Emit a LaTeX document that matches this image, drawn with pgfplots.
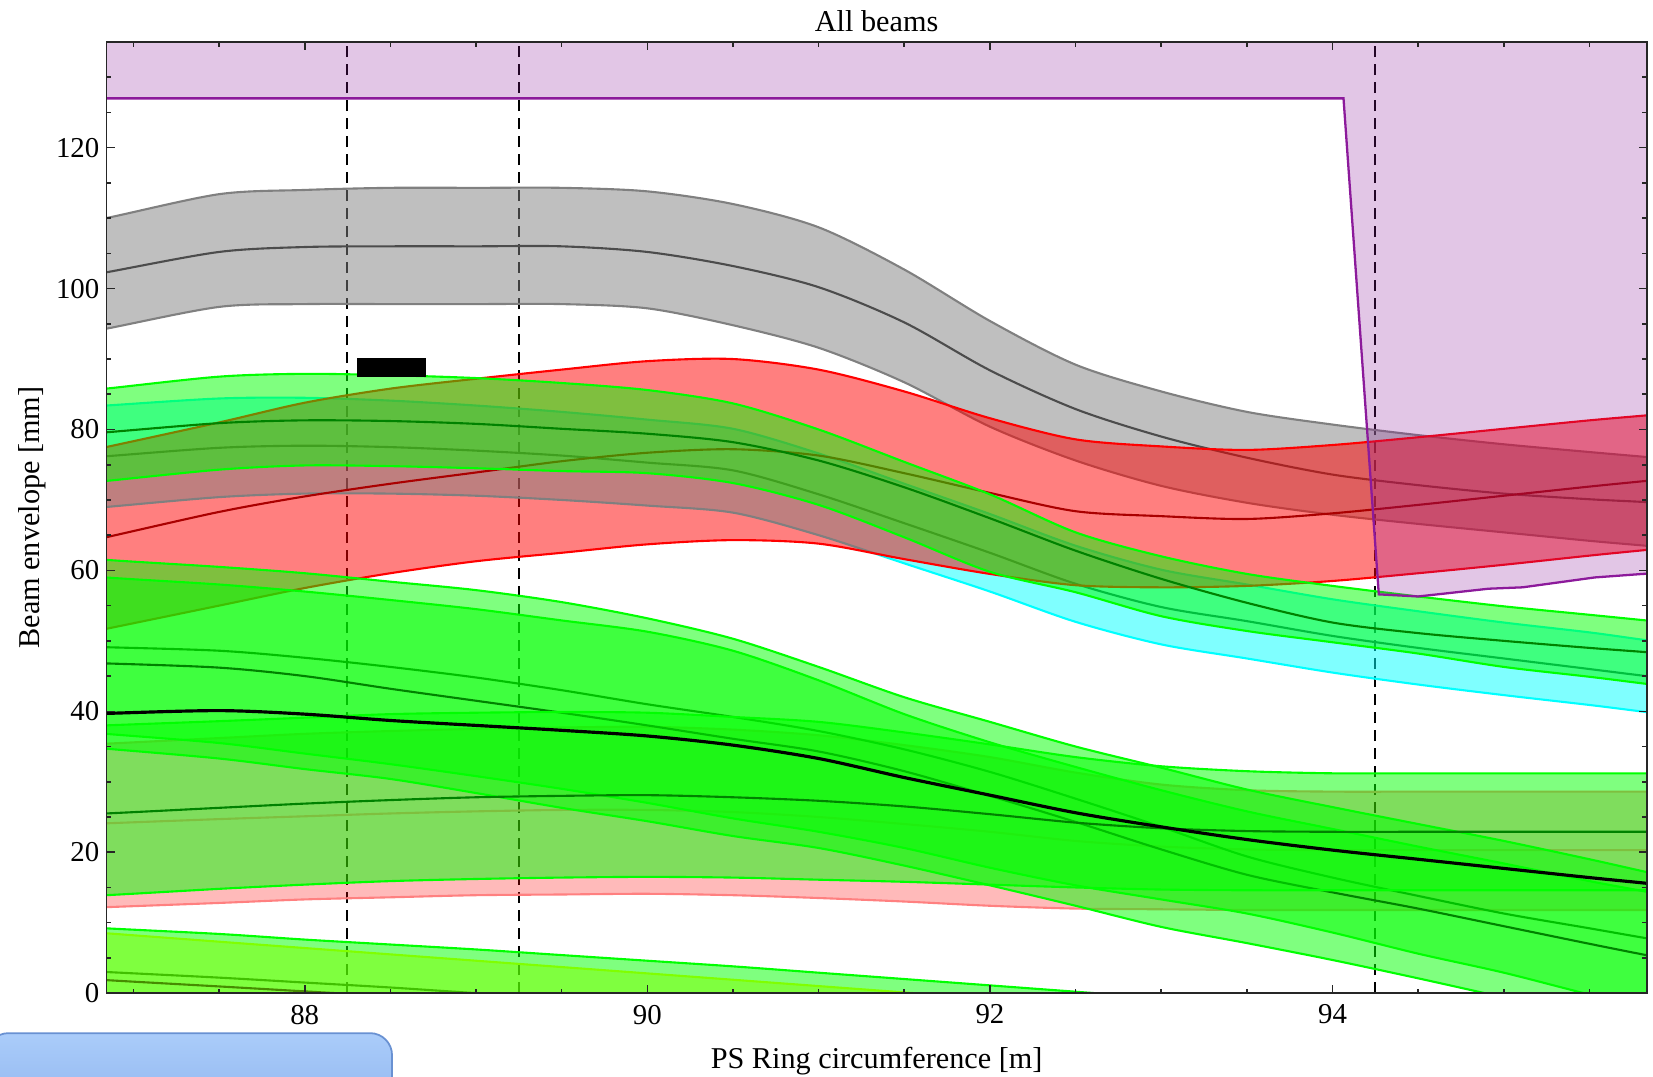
\documentclass[border=0pt]{standalone}
\usepackage{fontspec}
\setmainfont{Liberation Serif}
\usepackage{pgfplots}
\usepackage{pgfplotstable}
\pgfplotsset{compat=1.18}

\definecolor{pur}{RGB}{140,26,155}
\definecolor{grayedge}{gray}{0.5}
\definecolor{graymid}{gray}{0.3}
\definecolor{redC}{RGB}{255,0,0}
\definecolor{redmid}{RGB}{170,0,0}
\definecolor{cyanC}{RGB}{0,255,255}
\definecolor{cyanmid}{RGB}{0,128,128}
\definecolor{greenC}{RGB}{0,255,0}
\definecolor{gmid}{RGB}{0,130,0}
\definecolor{pinkedge}{RGB}{255,128,128}
\definecolor{chart}{RGB}{128,255,0}
\definecolor{chartmid}{RGB}{70,140,0}
\definecolor{boxtop}{RGB}{170,204,250}
\definecolor{boxbot}{RGB}{145,182,238}
\definecolor{boxedge}{RGB}{105,145,210}

% band outlines: rows 0-20 upper edge (left to right), rows 21-41 lower edge (right to left)
\pgfplotstableread{
x gray red cyan gone gtwo gthree gfour pink gfive ylw
86.5 108.5 75.8 82.9 85.0 62.3 59.8 37.6 35.0 9.7 9.1
86.84 110.0 77.5 83.4 85.8 61.5 59.0 38.0 35.4 9.2 8.5
87.5 113.4 81.0 84.4 87.5 60.5 58.0 38.6 36.2 8.4 7.3
88 114.0 83.8 84.5 87.9 59.6 57.0 39.1 36.8 7.6 6.4
88.5 114.3 85.8 84.1 87.7 58.4 55.8 39.6 37.2 6.9 5.5
89 114.3 87.2 83.4 87.3 57.2 54.5 39.8 37.5 6.2 4.6
89.5 114.3 88.5 82.5 86.6 55.5 52.9 39.9 37.7 5.4 3.7
90 113.8 89.7 81.4 85.6 53.2 51.3 39.8 37.8 4.6 2.8
90.5 112.0 90.0 80.1 83.7 50.3 48.6 39.2 37.4 3.8 1.9
91 108.7 88.5 76.6 80.0 46.3 44.4 38.5 36.6 2.9 1.0
91.5 102.7 85.4 72.3 75.4 42.0 39.6 37.0 35.2 2.0 0.1
92 95.4 81.6 68.0 70.8 38.5 35.6 35.3 33.5 1.1 -0.8
92.5 89.2 78.6 63.5 65.4 35.0 32.1 33.5 31.3 0.2 -1.7
93 85.4 77.6 60.1 62.0 32.0 28.8 32.2 29.6 -0.7 -2.6
93.5 82.5 77.1 58.0 59.5 28.9 25.8 31.5 28.8 -1.6 -3.5
94 80.7 77.8 55.9 57.8 26.4 23.3 31.2 28.6 -2.5 -4.4
94.5 79.2 78.9 54.2 56.3 24.0 20.8 31.2 28.6 -3.4 -5.3
95 77.9 80.1 52.6 54.9 21.6 18.4 31.2 28.6 -4.3 -6.2
95.5 76.8 81.3 51.2 53.7 19.0 15.9 31.2 28.6 -5.2 -7.1
95.83 76.1 82.0 50.1 52.9 17.2 14.4 31.2 28.6 -5.8 -7.7
96.2 75.3 82.8 49.0 52.0 15.2 12.6 31.2 28.6 -6.5 -8.3
96.2 62.7 63.8 38.8 42.8 -4.0 -6.5 14.6 11.8 -15 -15
95.83 63.5 62.9 39.9 43.9 -2.0 -4.8 14.6 11.8 -15 -15
95.5 64.2 62.1 40.9 44.9 -0.2 -3.2 14.6 11.8 -15 -15
95 65.4 60.8 42.3 46.3 2.9 -0.6 14.6 11.8 -15 -15
94.5 66.6 59.6 43.8 48.2 5.6 2.1 14.6 11.8 -15 -15
94 67.9 58.5 45.5 49.8 8.6 4.7 14.6 11.8 -15 -15
93.5 69.6 57.8 47.5 51.4 11.3 7.1 14.6 11.8 -15 -15
93 72.0 57.6 49.5 53.5 13.3 9.4 14.7 11.9 -15 -15
92.5 75.6 57.9 52.7 56.9 15.3 12.4 15.0 12.0 -15 -15
92 80.4 59.5 57.0 59.8 17.8 15.3 15.4 12.4 -15 -15
91.5 86.7 61.6 61.0 64.7 20.6 18.1 15.8 13.0 -15 -15
91 91.6 63.8 65.0 69.3 22.9 20.6 16.1 13.5 -15 -15
90.5 94.8 64.3 68.2 72.4 24.8 22.3 16.4 13.9 -15 -15
90 97.2 63.7 69.2 73.8 27.0 24.4 16.5 14.1 -15 -15
89.5 97.8 62.5 70.0 74.1 29.0 26.3 16.4 14.0 -15 -15
89 97.8 61.3 70.6 74.5 30.8 28.4 16.2 13.9 -15 -15
88.5 97.8 59.6 70.9 74.8 32.5 30.4 15.9 13.6 -15 -15
88 97.8 57.5 70.9 74.9 34.0 31.8 15.4 13.3 -15 -15
87.5 97.4 55.0 70.4 74.3 35.5 33.3 14.8 12.8 -15 -15
86.84 94.3 51.7 69.0 72.7 36.8 34.7 13.9 12.2 -15 -15
86.5 92.8 50.0 68.3 72.0 37.5 35.4 13.6 11.9 -15 -15
}\poly

% centre lines of the beams
\pgfplotstableread{
x gray red cyan gone gtwo gthree gfour pink gfive ylw blk
86.5 100.8 62.9 75.6 79.0 49.3 47.0 25.2 23.8 3.4 2.4 39.4
86.84 102.3 64.7 76.2 79.6 49.1 46.8 25.5 24.1 3.0 1.85 39.7
87.5 105.2 68.3 77.4 80.9 48.6 46.2 26.3 24.7 2.2 0.95 40.1
88 105.9 70.5 77.7 81.3 47.6 45.0 26.9 25.1 1.5 0.25 39.6
88.5 106.0 72.3 77.5 81.2 46.3 43.2 27.4 25.5 0.8 -0.45 38.7
89 106.0 73.9 77.0 80.8 44.8 41.5 27.8 25.8 0.0 -1.15 38.0
89.5 106.0 75.5 76.3 80.1 43.0 39.8 28.0 26.0 -0.7 -1.85 37.3
90 105.2 76.7 75.3 79.4 41.0 38.0 28.1 26.0 -1.4 -2.55 36.5
90.5 103.2 77.2 74.2 78.2 39.2 36.1 27.8 25.7 -2.1 -3.25 35.2
91 100.2 76.3 70.8 75.6 37.2 34.3 27.3 25.0 -2.8 -3.95 33.3
91.5 95.2 73.8 66.7 71.8 34.6 31.5 26.5 24.0 -3.5 -4.65 30.6
92 88.4 71.0 62.5 67.4 31.4 28.0 25.4 22.9 -4.2 -5.35 28.1
92.5 82.9 68.4 58.1 62.8 27.6 24.3 24.2 21.6 -4.9 -6.05 25.6
93 79.0 67.7 54.8 58.8 23.6 20.4 23.4 20.8 -5.6 -6.75 23.6
93.5 76.0 67.3 52.8 55.4 19.4 16.8 23.0 20.4 -6.3 -7.45 21.8
94 73.6 68.1 50.7 52.6 16.4 14.3 22.9 20.3 -7.0 -8.15 20.3
94.5 72.1 69.3 49.0 51.1 13.8 12.0 22.9 20.3 -7.7 -8.85 19.0
95 70.9 70.6 47.5 50.0 11.3 9.5 22.9 20.3 -8.4 -9.55 17.7
95.5 70.1 71.9 46.0 49.0 9.2 7.0 22.9 20.3 -9.1 -10.25 16.4
95.83 69.7 72.7 45.0 48.4 7.8 5.4 22.9 20.3 -9.6 -10.7 15.6
96.2 69.2 73.6 43.9 47.7 6.3 3.7 22.9 20.3 -10.1 -11.2 14.7
}\centres

\pgfplotsset{
  bf/.style={smooth, draw=none, fill=#1, fill opacity=0.5},
  up/.style={smooth, line width=0.6pt, draw=#1, skip coords between index={21}{42}},
  dn/.style={smooth, line width=0.6pt, draw=#1, skip coords between index={0}{21}},
  mid/.style={smooth, line width=0.6pt, draw=#1},
}

\begin{document}
\begin{tikzpicture}
\begin{axis}[
  at={(0,0)}, anchor=south west,
  scale only axis, width=154mm, height=95.1mm,
  xmin=86.843, xmax=95.834, ymin=0, ymax=135,
  axis on top,
  axis line style={black!85, line width=0.5pt},
  xtick={88,90,92,94},
  minor xtick={87,87.5,88.5,89,89.5,90.5,91,91.5,92.5,93,93.5,94.5,95,95.5},
  ytick={0,20,40,60,80,100,120},
  minor ytick={5,10,15,25,30,35,45,50,55,65,70,75,85,90,95,105,110,115,125,130},
  tick align=inside,
  major tick length=0.8mm, minor tick length=0.45mm,
  tick style={black!85, line width=0.45pt},
  tick label style={font=\fontsize{8.2}{9.5}\selectfont},
  /pgf/number format/assume math mode=true,
  xticklabel style={inner sep=0pt, yshift=-1.1mm},
  yticklabel style={inner sep=0pt, xshift=-0.65mm},
  title={All beams},
  every axis title/.style={at={(axis description cs:0.5,1.011)}, anchor=base, inner sep=0pt, font=\fontsize{8.6}{10}\selectfont},
  xlabel={PS Ring circumference [m]},
  xlabel style={at={(axis description cs:0.5,-0.0789)}, anchor=base, inner sep=0pt, font=\fontsize{8.6}{10}\selectfont},
  ylabel={Beam envelope [mm]},
  ylabel style={at={(axis description cs:-0.0432,0.5)}, anchor=base, inner sep=0pt, font=\fontsize{8.6}{10}\selectfont},
]
% dashed markers
\addplot[black, line width=0.4pt, dash pattern=on 1.1mm off 0.7mm] coordinates {(88.246,0) (88.246,135)};
\addplot[black, line width=0.4pt, dash pattern=on 1.1mm off 0.7mm] coordinates {(89.251,0) (89.251,135)};
\addplot[black, line width=0.4pt, dash pattern=on 1.1mm off 0.7mm] coordinates {(94.247,0) (94.247,135)};

% gray beam
\addplot[bf=black!50] table[x=x,y=gray]{\poly};
\addplot[up=grayedge] table[x=x,y=gray]{\poly};
\addplot[dn=grayedge] table[x=x,y=gray]{\poly};
\addplot[mid=graymid] table[x=x,y=gray]{\centres};
% cyan beam
\addplot[bf=cyanC] table[x=x,y=cyan]{\poly};
\addplot[up=cyanC] table[x=x,y=cyan]{\poly};
\addplot[dn=cyanC] table[x=x,y=cyan]{\poly};
\addplot[mid=cyanmid] table[x=x,y=cyan]{\centres};
% red beam
\addplot[bf=redC] table[x=x,y=red]{\poly};
\addplot[up=redC] table[x=x,y=red]{\poly};
\addplot[dn=redC] table[x=x,y=red]{\poly};
\addplot[mid=redmid] table[x=x,y=red]{\centres};
% pink beam
\addplot[smooth, draw=none, fill=redC, fill opacity=0.27] table[x=x,y=pink]{\poly};
\addplot[up=pinkedge] table[x=x,y=pink]{\poly};
\addplot[dn=pinkedge] table[x=x,y=pink]{\poly};
\addplot[mid=pinkedge] table[x=x,y=pink]{\centres};
% green beams
\addplot[bf=greenC] table[x=x,y=gone]{\poly};
\addplot[up=greenC] table[x=x,y=gone]{\poly};
\addplot[dn=greenC] table[x=x,y=gone]{\poly};
\addplot[mid=gmid] table[x=x,y=gone]{\centres};

\addplot[bf=greenC] table[x=x,y=gtwo]{\poly};
\addplot[up=greenC] table[x=x,y=gtwo]{\poly};
\addplot[dn=greenC] table[x=x,y=gtwo]{\poly};
\addplot[mid=gmid] table[x=x,y=gtwo]{\centres};

\addplot[bf=greenC] table[x=x,y=gthree]{\poly};
\addplot[up=greenC] table[x=x,y=gthree]{\poly};
\addplot[dn=greenC] table[x=x,y=gthree]{\poly};
\addplot[mid=gmid] table[x=x,y=gthree]{\centres};

\addplot[bf=greenC] table[x=x,y=gfour]{\poly};
\addplot[up=greenC] table[x=x,y=gfour]{\poly};
\addplot[dn=greenC] table[x=x,y=gfour]{\poly};
\addplot[mid=gmid] table[x=x,y=gfour]{\centres};

\addplot[bf=greenC] table[x=x,y=gfive]{\poly};
\addplot[up=greenC] table[x=x,y=gfive]{\poly};
\addplot[mid=gmid] table[x=x,y=gfive]{\centres};

\addplot[bf=chart] table[x=x,y=ylw]{\poly};
\addplot[up=chart] table[x=x,y=ylw]{\poly};
\addplot[mid=chartmid] table[x=x,y=ylw]{\centres};

% black centre line
\addplot[smooth, black, line width=0.9pt] table[x=x,y=blk]{\centres};

% black block
\addplot[fill=black, draw=none] coordinates {(88.303,87.4) (88.706,87.4) (88.706,90.2) (88.303,90.2)} --cycle;

% aperture (purple)
\addplot[draw=none, fill=pur, fill opacity=0.25] coordinates {(86.5,127) (94.064,127) (94.27,56.6) (94.5,56.3) (94.91,57.4) (95.11,57.6) (95.53,59.0) (95.81,59.5) (96.2,59.9) (96.2,140) (86.5,140)} --cycle;
\addplot[draw=pur, line width=0.65pt] coordinates {(86.5,127) (94.064,127) (94.27,56.6) (94.5,56.3) (94.91,57.4) (95.11,57.6) (95.53,59.0) (95.81,59.5) (96.2,59.9)};
\end{axis}
\draw[rounded corners=2.2mm, draw=boxedge, line width=0.5pt, top color=boxtop, bottom color=boxbot]
  (-12mm,-12mm) -- (-12mm,-4mm) -- (28.55mm,-4mm) -- (28.55mm,-12mm) -- cycle;
\pgfresetboundingbox
\path[use as bounding box] (-10.65mm,-8.3mm) rectangle (154.63mm,99.3mm);
\end{tikzpicture}
\end{document}
